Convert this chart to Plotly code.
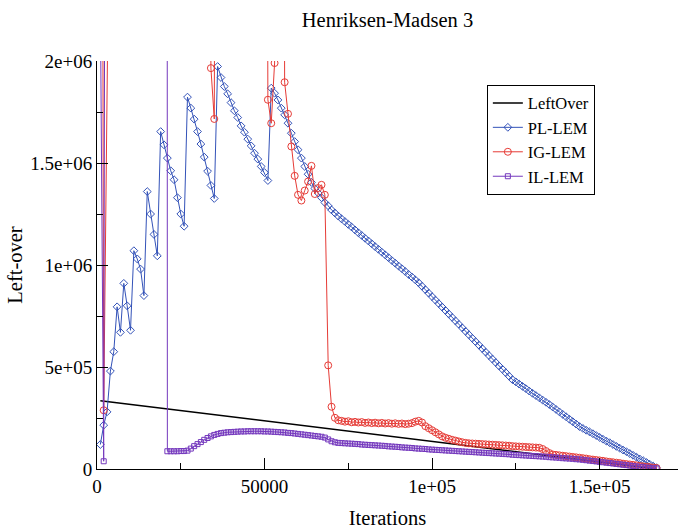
import plotly.graph_objects as go

# sample index (thousands of iterations)
iterations = [k * 1000 for k in range(1, 168)]

leftover_x = [1000, 40000, 80000, 120000, 167000]
leftover_y = [335000, 256000, 176000, 95000, 0]

# values in thousands
pl_lem = [
    120, 215, 280, 480, 575, 795, 670, 910, 800, 680,
    1070, 1030, 980, 850, 1360, 1250, 1150, 1045, 1654, 1589,
    1524, 1462, 1418, 1330, 1250, 1190, 1823, 1769, 1715, 1654,
    1593, 1529, 1460, 1390, 1326, 1973, 1919, 1875, 1839, 1796,
    1756, 1723, 1682, 1651, 1617, 1584, 1548, 1519, 1483, 1453,
    1414, 1867, 1842, 1809, 1769, 1736, 1695, 1646, 1605, 1565,
    1524, 1483, 1445, 1405, 1375, 1353, 1330, 1306, 1290, 1270,
    1255, 1240, 1226, 1213, 1199, 1186, 1172, 1158, 1145, 1131,
    1118, 1104, 1090, 1077, 1063, 1050, 1036, 1022, 1009, 995,
    982, 968, 954, 941, 927, 913, 896, 879, 862, 845,
    828, 811, 794, 777, 760, 743, 726, 709, 692, 675,
    658, 641, 624, 607, 590, 573, 556, 539, 522, 505,
    489, 472, 455, 438, 427, 416, 405, 394, 382, 371,
    360, 349, 338, 327, 316, 304, 292, 280, 268, 256,
    244, 232, 220, 208, 199, 190, 182, 173, 164, 155,
    146, 137, 129, 120, 111, 102, 93, 85, 76, 67,
    58, 49, 41, 32, 23, 14, 6,
]

ig_lem = [
    8000, 288, 8000, 8000, 8000, 8000, 8000, 8000, 8000, 8000,
    8000, 8000, 8000, 8000, 8000, 8000, 8000, 8000, 8000, 8000,
    8000, 8000, 8000, 8000, 8000, 8000, 8000, 8000, 8000, 8000,
    8000, 8000, 8000, 1965, 1716, 8000, 8000, 8000, 8000, 8000,
    8000, 8000, 8000, 8000, 8000, 8000, 8000, 8000, 8000, 8000,
    1810, 1695, 1990, 8000, 8000, 1896, 1741, 1581, 1437, 1344,
    1316, 1365, 1409, 1486, 1348, 1377, 1393, 1344, 508, 305,
    251, 239, 236, 232, 234, 229, 231, 228, 230, 226,
    228, 225, 227, 224, 226, 223, 225, 222, 224, 221,
    223, 220, 222, 225, 232, 236, 228, 210, 200, 190,
    180, 170, 160, 153, 148, 143, 139, 135, 131, 128,
    126, 125, 124, 123, 122, 121, 120, 119, 118, 117,
    116, 115, 114, 112, 111, 110, 109, 108, 107, 106,
    105, 104, 98, 88, 78, 71, 69, 67, 65, 63,
    61, 59, 57, 55, 53, 51, 48, 46, 44, 42,
    40, 37, 35, 33, 31, 29, 26, 24, 22, 20,
    18, 15, 13, 11, 9, 7, 5,
]

il_lem = [
    2300, 38, 8000, 8000, 8000, 8000, 8000, 8000, 8000, 8000,
    8000, 8000, 8000, 8000, 8000, 8000, 8000, 8000, 8000, 60000,
    87, 87, 87, 87, 88, 88, 90, 100, 112, 122,
    132, 143, 152, 160, 167, 172, 176, 178, 180, 181,
    182, 183, 184, 184, 185, 185, 185, 185, 185, 184,
    184, 183, 182, 181, 180, 179, 177, 176, 174, 172,
    170, 168, 166, 164, 162, 160, 158, 154, 145, 136,
    131, 128, 127, 126, 125, 124, 123, 122, 120, 119,
    118, 117, 116, 115, 114, 113, 111, 110, 109, 108,
    106, 105, 104, 103, 101, 100, 99, 98, 96, 95,
    94, 93, 92, 91, 90, 89, 88, 87, 86, 85,
    84, 83, 82, 81, 80, 79, 78, 77, 76, 75,
    74, 73, 72, 70, 69, 68, 67, 66, 65, 64,
    63, 62, 61, 60, 58, 57, 56, 55, 53, 52,
    51, 50, 48, 47, 45, 43, 41, 39, 37, 35,
    33, 31, 29, 27, 25, 23, 21, 19, 17, 15,
    13, 11, 9, 7, 5, 4, 3,
]

x_tickvals = [0, 50000, 100000, 150000]
x_ticktext = ["0", "50000", "1e+05", "1.5e+05"]
y_tickvals = [0, 500000, 1000000, 1500000, 2000000]
y_ticktext = ["0", "5e+05", "1e+06", "1.5e+06", "2e+06"]

FONT = "Liberation Serif, Times New Roman, serif"
BLUE = "#3352b8"
RED = "#e63b36"
PURPLE = "#7438bd"

fig = go.Figure()
fig.add_trace(go.Scatter(x=leftover_x, y=leftover_y, mode="lines", name="LeftOver",
                         line=dict(color="black", width=1.5)))
fig.add_trace(go.Scatter(x=iterations, y=[v * 1000 for v in pl_lem], mode="lines+markers",
                         name="PL-LEM", line=dict(color=BLUE, width=1),
                         marker=dict(symbol="diamond-open", size=6, color=BLUE,
                                     line=dict(width=1, color=BLUE))))
fig.add_trace(go.Scatter(x=iterations, y=[v * 1000 for v in ig_lem], mode="lines+markers",
                         name="IG-LEM", line=dict(color=RED, width=1),
                         marker=dict(symbol="circle-open", size=7, color=RED,
                                     line=dict(width=1, color=RED))))
fig.add_trace(go.Scatter(x=iterations, y=[v * 1000 for v in il_lem], mode="lines+markers",
                         name="IL-LEM", line=dict(color=PURPLE, width=1),
                         marker=dict(symbol="square-open", size=5, color=PURPLE,
                                     line=dict(width=1, color=PURPLE))))

fig.update_layout(
    width=678, height=532,
    margin=dict(l=97, r=0, t=61, b=63),
    paper_bgcolor="white", plot_bgcolor="white",
    font=dict(family=FONT, size=19, color="black"),
    title=dict(text="Henriksen-Madsen 3", x=0.5, xref="paper", y=0.962, yref="container",
               yanchor="middle", font=dict(family=FONT, size=20.5, color="black")),
    showlegend=True,
    legend=dict(x=0.671, y=0.942, xanchor="left", yanchor="top",
                bordercolor="black", borderwidth=1, bgcolor="white",
                font=dict(family=FONT, size=16.5), tracegroupgap=0),
    xaxis=dict(range=[0, 173400], showgrid=False, zeroline=False,
               showline=True, linecolor="black", linewidth=1,
               ticks="inside", ticklen=11, tickcolor="black", tickwidth=1,
               tickvals=x_tickvals, ticktext=x_ticktext,
               minor=dict(ticks="inside", ticklen=6, tickcolor="black", dtick=25000, tick0=0),
               title=dict(text="Iterations", font=dict(family=FONT, size=20.5), standoff=14)),
    yaxis=dict(range=[0, 2000000], showgrid=False, zeroline=False,
               showline=True, linecolor="black", linewidth=1,
               ticks="inside", ticklen=11, tickcolor="black", tickwidth=1,
               tickvals=y_tickvals, ticktext=y_ticktext,
               minor=dict(ticks="inside", ticklen=6, tickcolor="black", dtick=250000, tick0=0),
               title=dict(text="Left-over", font=dict(family=FONT, size=20.5), standoff=2)),
)

fig.write_html("out.html")
